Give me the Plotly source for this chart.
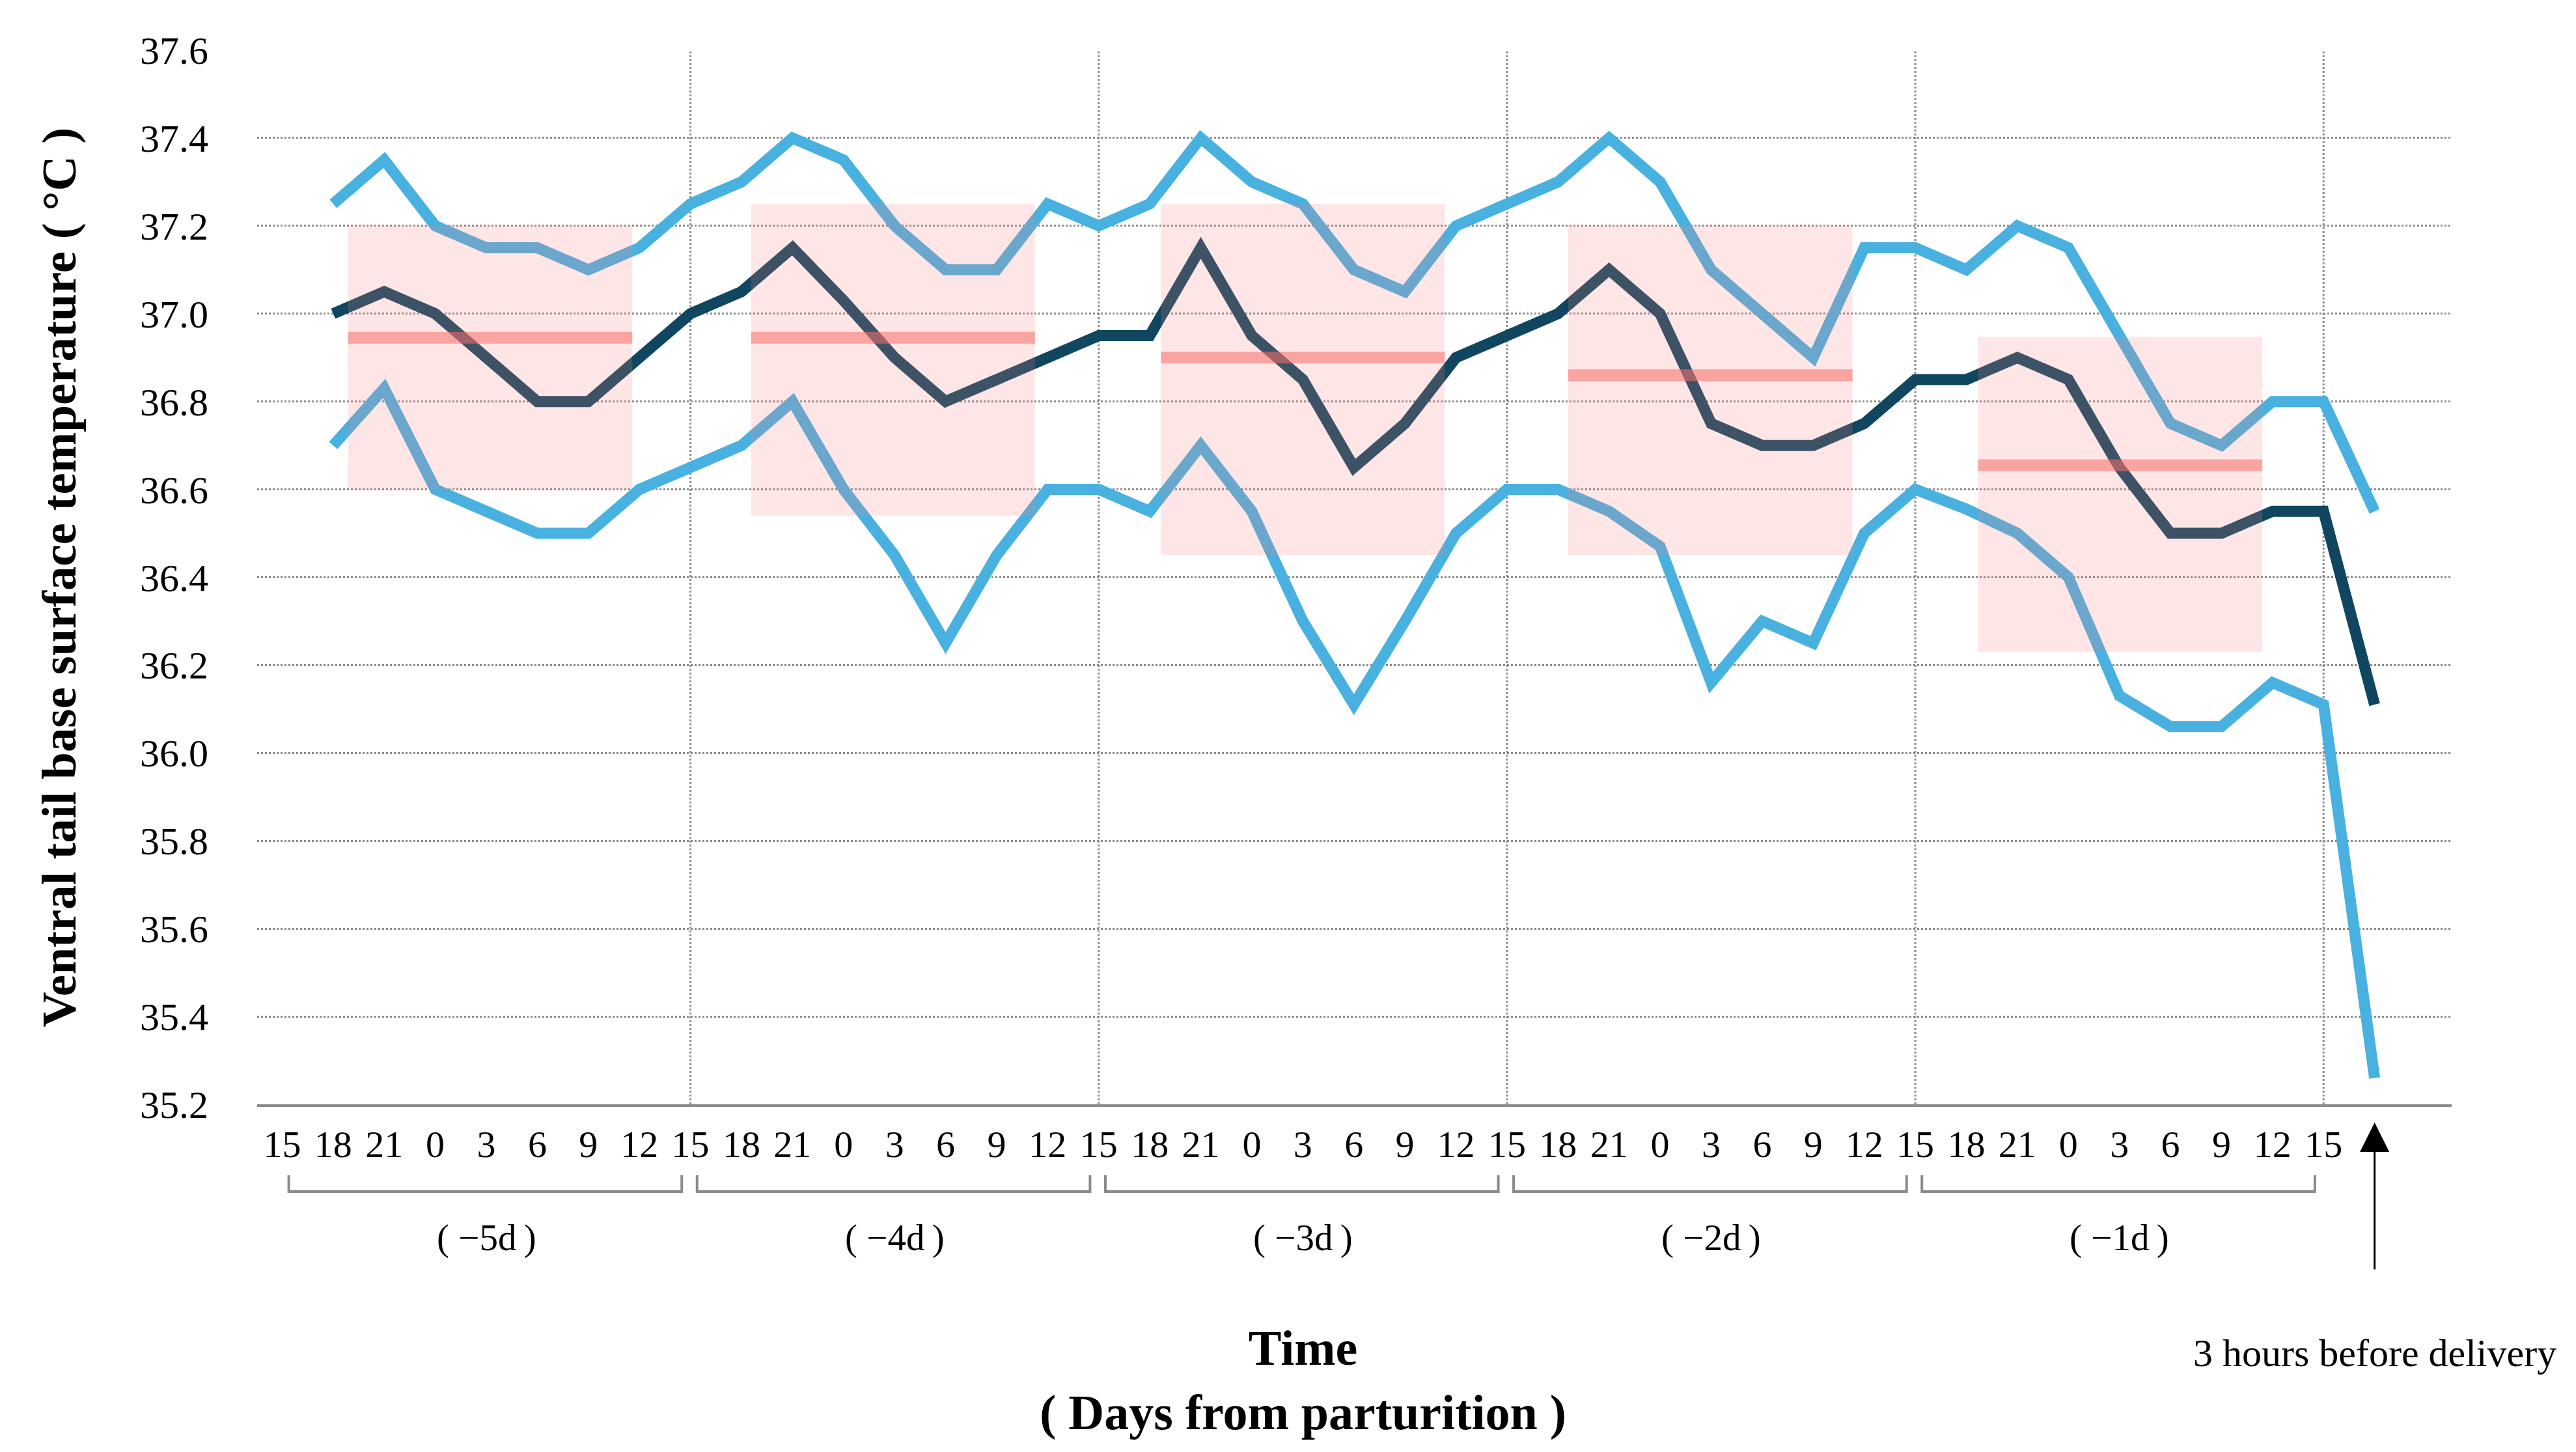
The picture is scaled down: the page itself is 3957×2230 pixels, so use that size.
import plotly.graph_objects as go

# ---------------- data ----------------
hour_labels = ["15", "18", "21", "0", "3", "6", "9", "12"] * 5 + ["15"]
day_labels = ["( \u22125d\u2009)", "( \u22124d\u2009)", "( \u22123d\u2009)", "( \u22122d\u2009)", "( \u22121d\u2009)"]

# sample index (0 = 15 h of day -5; one step = 3 h); data start at 18 h
sample_idx = list(range(1, 42))

upper = [37.25, 37.35, 37.2, 37.15, 37.15, 37.1, 37.15, 37.25,
         37.3, 37.4, 37.35, 37.2, 37.1, 37.1, 37.25, 37.2,
         37.25, 37.4, 37.3, 37.25, 37.1, 37.05, 37.2, 37.25,
         37.3, 37.4, 37.3, 37.1, 37.0, 36.9, 37.15, 37.15,
         37.1, 37.2, 37.15, 36.95, 36.75, 36.7, 36.8, 36.8,
         36.55]
mean = [37.0, 37.05, 37.0, 36.9, 36.8, 36.8, 36.9, 37.0,
        37.05, 37.15, 37.03, 36.9, 36.8, 36.85, 36.9, 36.95,
        36.95, 37.15, 36.95, 36.85, 36.65, 36.75, 36.9, 36.95,
        37.0, 37.1, 37.0, 36.75, 36.7, 36.7, 36.75, 36.85,
        36.85, 36.9, 36.85, 36.65, 36.5, 36.5, 36.55, 36.55,
        36.11]
lower = [36.7, 36.83, 36.6, 36.55, 36.5, 36.5, 36.6, 36.65,
         36.7, 36.8, 36.6, 36.45, 36.25, 36.45, 36.6, 36.6,
         36.55, 36.7, 36.55, 36.3, 36.11, 36.3, 36.5, 36.6,
         36.6, 36.55, 36.47, 36.16, 36.3, 36.25, 36.5, 36.6,
         36.555, 36.5, 36.4, 36.13, 36.06, 36.06, 36.16, 36.11,
         35.26]

# daily summary windows (pink boxes) and daily mean (red bar)
box_start = [1.29, 9.19, 17.22, 25.2, 33.23]
box_end = [6.86, 14.75, 22.78, 30.77, 38.8]
box_high = [37.2, 37.25, 37.25, 37.2, 36.947]
box_low = [36.6, 36.54, 36.45, 36.45, 36.23]
day_mean = [36.945, 36.945, 36.90, 36.86, 36.655]

day_boundaries = [8, 16, 24, 32, 40]
delivery_idx = 41

# ---------------- style ----------------
LIGHT = "#48B1E0"
DARK = "#10465F"
FONT = "Liberation Serif"

fig = go.Figure()
for vals, col in [(upper, LIGHT), (lower, LIGHT), (mean, DARK)]:
    fig.add_trace(go.Scatter(x=sample_idx, y=vals, mode="lines",
                             line=dict(color=col, width=17),
                             showlegend=False, hoverinfo="skip"))

shapes = []
# vertical day-boundary grid lines
for b in day_boundaries:
    shapes.append(dict(type="line", xref="x", yref="paper", x0=b, x1=b, y0=0, y1=1,
                       line=dict(color="#8a8a8a", width=3, dash="dot"), layer="below"))
# pink boxes + daily mean bars
for x0, x1, hi, lo, m in zip(box_start, box_end, box_high, box_low, day_mean):
    shapes.append(dict(type="rect", xref="x", yref="y", x0=x0, x1=x1, y0=lo, y1=hi,
                       fillcolor="rgba(250,128,128,0.2)", line=dict(width=0), layer="above"))
    shapes.append(dict(type="line", xref="x", yref="y", x0=x0, x1=x1, y0=m, y1=m,
                       line=dict(color="rgba(245,110,105,0.55)", width=18), layer="above"))
# day brackets under the tick labels
for k in range(len(day_labels)):
    a = 8 * k + 0.13
    b = 8 * k + 7.83
    shapes.append(dict(type="path", xref="x", yref="paper",
                       path=f"M {a},-0.0673 L {a},-0.0828 L {b},-0.0828 L {b},-0.0673",
                       line=dict(color="#8a8a8a", width=4), layer="above"))

annotations = []
for k, lab in enumerate(day_labels):
    annotations.append(dict(x=8 * k + 4, y=-0.1266, xref="x", yref="paper", text=lab,
                            showarrow=False, font=dict(family=FONT, size=57, color="black"),
                            xanchor="center", yanchor="middle"))
annotations.append(dict(x=20, y=-0.2616, xref="x", yref="paper",
                        text="<b>Time</b><br><b>( Days from parturition )</b>",
                        showarrow=False, font=dict(family=FONT, size=76, color="black"),
                        xanchor="center", yanchor="middle"))
annotations.append(dict(x=-0.0902, y=0.5, xref="paper", yref="paper",
                        text="<b>Ventral tail base surface temperature ( °C )</b>",
                        textangle=-90, showarrow=False,
                        font=dict(family=FONT, size=75, color="black"),
                        xanchor="center", yanchor="middle"))
# arrow marking 3 hours before delivery
annotations.append(dict(x=delivery_idx, y=-0.0173, xref="x", yref="paper", text="",
                        showarrow=True, ax=0, ay=227, arrowhead=2, arrowsize=3,
                        arrowwidth=3, arrowcolor="black"))
annotations.append(dict(x=delivery_idx, y=-0.236, xref="x", yref="paper",
                        text="3 hours before delivery", showarrow=False,
                        font=dict(family=FONT, size=60, color="black"),
                        xanchor="center", yanchor="middle"))

fig.update_layout(
    width=3957, height=2230,
    margin=dict(l=387, r=199, t=69, b=542),
    paper_bgcolor="white", plot_bgcolor="white",
    shapes=shapes, annotations=annotations,
    font=dict(family=FONT, color="black"),
)
fig.update_xaxes(range=[-0.49, 42.51], tickmode="array",
                 tickvals=list(range(len(hour_labels))), ticktext=hour_labels,
                 showgrid=False, zeroline=False, showline=True,
                 linecolor="#8a8a8a", linewidth=4, ticks="",
                 tickfont=dict(family=FONT, size=58, color="black"),
                 ticklabelstandoff=7)
fig.update_yaxes(range=[35.2, 37.6], dtick=0.2, tick0=35.2, tickformat=".1f",
                 showgrid=True, gridcolor="#8a8a8a", gridwidth=3, griddash="dot",
                 zeroline=False, showline=False, ticks="",
                 tickfont=dict(family=FONT, size=60, color="black"),
                 ticklabelstandoff=74)

fig.write_html("out.html")
